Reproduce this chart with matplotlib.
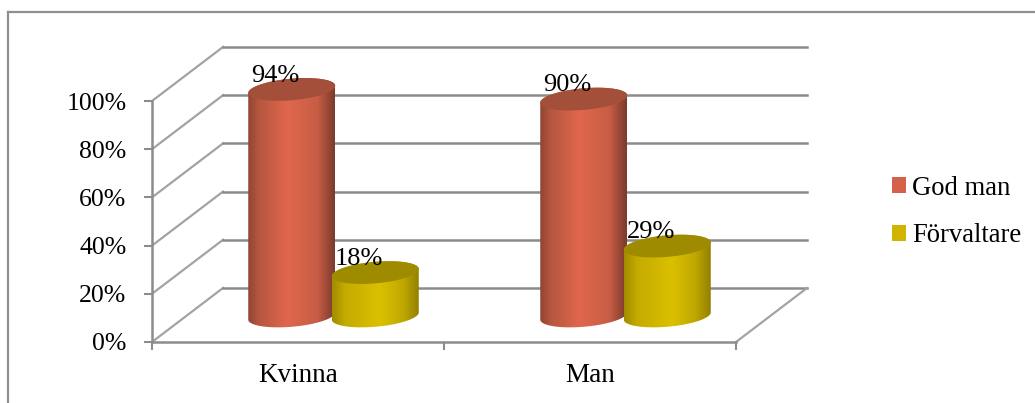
import numpy as np
import matplotlib
matplotlib.use("Agg")
import matplotlib.pyplot as plt
from matplotlib.colors import LinearSegmentedColormap
from matplotlib.lines import Line2D
from matplotlib.patches import Patch, Polygon

# Survey shares per category and role
categories = ["Kvinna", "Man"]
series_names = ["God man", "Förvaltare"]
god_man = [94, 90]
forvaltare = [18, 29]
y_ticks = [0, 20, 40, 60, 80, 100]

W, H = 1035, 403
plt.rcParams["font.family"] = ["Liberation Serif", "DejaVu Serif"]

fig = plt.figure(figsize=(W / 100, H / 100), dpi=100, facecolor="white")

# Front plane of the 3D box, placed on the canvas in pixels
left, right, bottom_px, top_px = 152, 736, 342, 101
ax = fig.add_axes([left / W, 1 - bottom_px / H, (right - left) / W, (bottom_px - top_px) / H])
ax.set_xlim(0, 2)
ax.set_ylim(0, 100)
ax.patch.set_visible(False)

px_x = 2 / (right - left)              # category units per pixel
px_y = 100 / (bottom_px - top_px)      # percent per pixel
depth_x, depth_y = 71 * px_x, 54 * px_y

GRID = "#8c8c8c"
WALL = "#a3a3a3"
for v in y_ticks:
    ax.plot([0, depth_x], [v, v + depth_y], color=WALL, lw=1.6, clip_on=False, zorder=1)
    ax.plot([depth_x, 2 + depth_x], [v + depth_y] * 2, color=GRID, lw=1.8, clip_on=False, zorder=1)
ax.plot([2, 2 + depth_x], [0, depth_y], color=WALL, lw=1.6, clip_on=False, zorder=1)

for name in ("top", "right"):
    ax.spines[name].set_visible(False)
for name in ("left", "bottom"):
    ax.spines[name].set_color(GRID)
    ax.spines[name].set_linewidth(1.8)
ax.set_yticks(y_ticks, [f"{v}%" for v in y_ticks])
ax.set_xticks([0, 1, 2], ["", "", ""])
ax.set_xticks([0.5, 1.5], categories, minor=True)
ax.tick_params(axis="y", length=5.5, width=1.5, color=GRID, labelsize=18.5, pad=13)
ax.tick_params(axis="x", which="major", length=5.5, width=1.5, color=GRID)
ax.tick_params(axis="x", which="minor", length=0, labelsize=19.5, pad=15)


def shaded(colors):
    return LinearSegmentedColormap.from_list("shade", colors)


red_side = shaded([(0.0, "#8f4534"), (0.12, "#b5563f"), (0.45, "#e0674d"), (0.8, "#c85d45"), (1.0, "#7a3a2c")])
yellow_side = shaded([(0.0, "#a08c00"), (0.15, "#c4ab00"), (0.55, "#dbc000"), (0.82, "#c0a800"), (1.0, "#928000")])

half_w = 43.5 * px_x
half_h = 10.8 * px_y
tilt = 3.6 * px_y
base = 10.8          # floor level of the bars, half way into the box
offset_x = depth_x / 2
gap = 41.75 * px_x
theta = np.linspace(0, 2 * np.pi, 181)


def cylinder(cx, value, cmap, top_color, z):
    """Draw one upright cylinder standing on the box floor."""
    top = base + value
    ex = half_w * np.cos(theta)
    ey = tilt * np.cos(theta) + half_h * np.sin(theta)
    upper = theta <= np.pi
    lower = theta >= np.pi
    xs = np.r_[cx + ex[upper], cx + ex[lower]]
    ys = np.r_[top + ey[upper], base + ey[lower]]
    side = Polygon(np.c_[xs, ys], closed=True, facecolor="none", edgecolor="none",
                   transform=ax.transData)
    ax.add_patch(side)
    ramp = np.linspace(0, 1, 256).reshape(1, -1)
    im = ax.imshow(ramp, cmap=cmap, aspect="auto", interpolation="bilinear",
                   extent=[cx - half_w, cx + half_w, base - half_h - tilt, top + half_h + tilt],
                   zorder=z)
    im.set_clip_box(fig.bbox)
    im.set_clip_path(side)
    ax.add_patch(Polygon(np.c_[cx + ex, top + ey], closed=True, facecolor=top_color,
                         edgecolor="none", zorder=z + 0.1, clip_on=False))
    ax.annotate(f"{value}%", (cx, top), xytext=(-12, 10), textcoords="offset points",
                ha="center", va="center", fontsize=19, color="black", zorder=10,
                annotation_clip=False)


for i in range(len(categories)):
    group = i + 0.5 + offset_x
    cylinder(group - gap, god_man[i], red_side, "#a34f3a", 3)
    cylinder(group + gap, forvaltare[i], yellow_side, "#9f8b00", 4)

ax.set_xlim(0, 2)
ax.set_ylim(0, 100)

ax.legend(handles=[Patch(facecolor="#d4614a", label=series_names[0]),
                   Patch(facecolor="#cfb500", label=series_names[1])],
          loc="center left", bbox_to_anchor=(892 / W, 1 - 212 / H),
          bbox_transform=fig.transFigure, frameon=False, fontsize=19.2,
          handlelength=0.53, handleheight=0.53, handletextpad=0.22,
          labelspacing=0.85, borderpad=0, borderaxespad=0)

# Thin frame around the chart area
fig.add_artist(Line2D([8 / W, 8 / W], [0, 1 - 12 / H], color="#8f8f8f", lw=1.6))
fig.add_artist(Line2D([8 / W, 1], [1 - 12 / H, 1 - 12 / H], color="#8f8f8f", lw=1.6))

fig.savefig("out.png", dpi=100, facecolor="white")
